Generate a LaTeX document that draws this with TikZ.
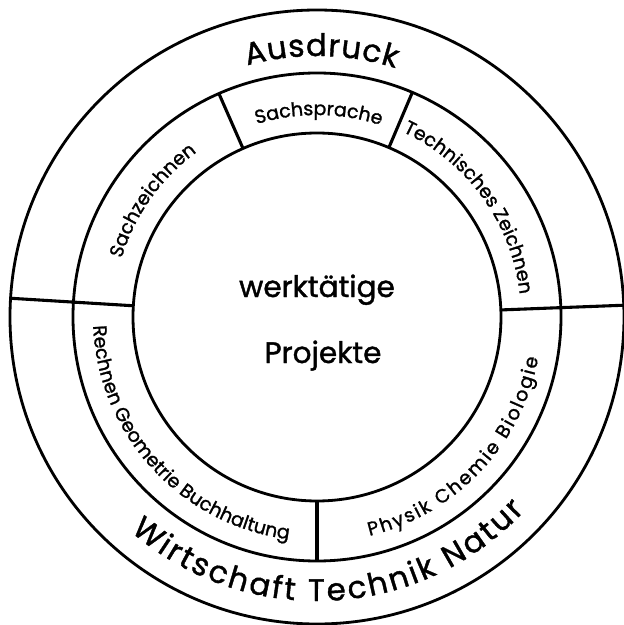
\documentclass[tikz,border=0pt]{standalone}
\usepackage{fontspec}
\setmainfont{Poppins}[FakeBold=1.3]
\usetikzlibrary{decorations.text}
\newcommand\ringfont{\fontsize{22pt}{26pt}\selectfont}
\newcommand\cellfont{\fontsize{13.5pt}{16pt}\selectfont}
\newcommand\centrefont{\fontsize{21pt}{25pt}\selectfont}
\tikzset{ringline/.style={draw=black,line width=2pt}}
\tikzset{divider/.style={draw=black,line width=2.2pt}}
\tikzset{arctext/.style={decorate,decoration={text along path,text align=center}}}
\tikzset{fittext/.style={decorate,decoration={text along path,text align=fit to path}}}
\tikzset{centretext/.style={anchor=base,inner sep=0pt,font=\centrefont}}

\begin{document}
\begin{tikzpicture}[x=0.025cm,y=0.025cm]
        \useasboundingbox (-317,-308) rectangle (307,317);

        % rings
        \draw[ringline] (0,0) circle[radius=307];
        \draw[ringline] (0,0) circle[radius=244];
        \draw[ringline] (0,0) circle[radius=184];

        % dividers
        \draw[divider] (176.5:184) -- (176.5:307);
        \draw[divider] (2.2:184) -- (2.2:307);
        \draw[divider] (-90:184) -- (-90:244);
        \draw[divider] (113.7:184) -- (113.7:244);
        \draw[divider] (67:184) -- (67:244);

        % outer ring
        \path[fittext,decoration={text={|\ringfont|Ausdruck}}]
            (105.5:261) arc[start angle=105.5,end angle=72.5,radius=261];
        \path[fittext,decoration={text={|\ringfont|Wirtschaft Technik Natur}}]
            (229:284) arc[start angle=229,end angle=317,radius=284];

        % middle ring
        \path[arctext,decoration={text={|\cellfont|Sachsprache}}]
            (130:202) arc[start angle=130,end angle=49,radius=202];
        \path[arctext,decoration={text={|\cellfont|Sachzeichnen}}]
            (175:204) arc[start angle=175,end angle=114.4,radius=204];
        \path[arctext,decoration={text={|\cellfont|Technisches Zeichnen}}]
            (76:204) arc[start angle=76,end angle=-4.5,radius=204];
        \path[arctext,decoration={text={|\cellfont|Rechnen Geometrie Buchhaltung}}]
            (165:224) arc[start angle=165,end angle=280,radius=224];
        \path[fittext,decoration={text={|\cellfont|Physik Chemie Biologie}}]
            (283.5:225) arc[start angle=283.5,end angle=349.5,radius=225];

        % centre
        \node[centretext] (werk) at (0,20) {werktätige};
        \node[centretext] (proj) at (6,-46) {Projekte};
\end{tikzpicture}
\end{document}
